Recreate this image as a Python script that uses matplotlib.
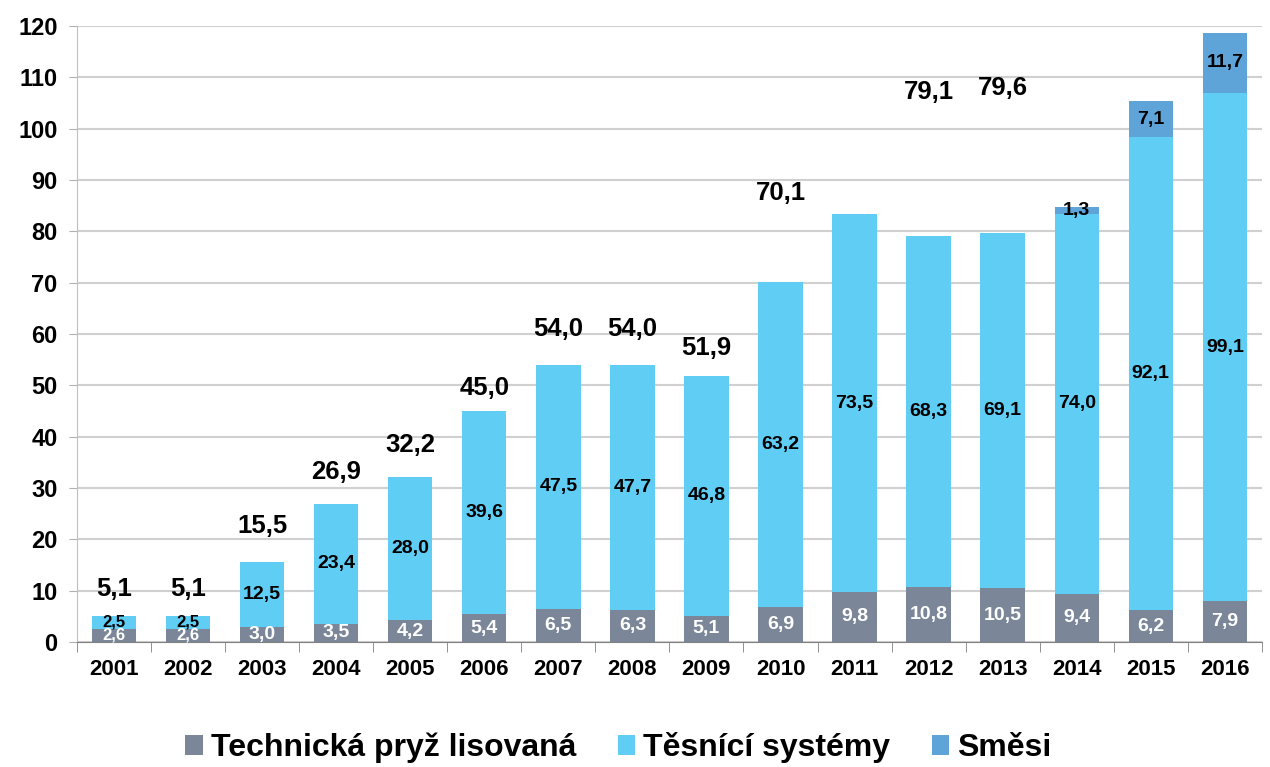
import numpy as np
import matplotlib
matplotlib.use("Agg")
import matplotlib.pyplot as plt

plt.rcParams['font.family'] = ['Liberation Sans', 'DejaVu Sans']
plt.rcParams['font.weight'] = 'bold'

years = ['2001', '2002', '2003', '2004', '2005', '2006', '2007', '2008',
         '2009', '2010', '2011', '2012', '2013', '2014', '2015', '2016']
pryz = [2.6, 2.6, 3.0, 3.5, 4.2, 5.4, 6.5, 6.3, 5.1, 6.9, 9.8, 10.8, 10.5, 9.4, 6.2, 7.9]
tesnici = [2.5, 2.5, 12.5, 23.4, 28.0, 39.6, 47.5, 47.7, 46.8, 63.2, 73.5, 68.3, 69.1, 74.0, 92.1, 99.1]
smesi = [0, 0, 0, 0, 0, 0, 0, 0, 0, 0, 0, 0, 0, 1.3, 7.1, 11.7]

# total labels as they sit in the original (some are displaced, some missing)
total_text = ['5,1', '5,1', '15,5', '26,9', '32,2', '45,0', '54,0', '54,0',
              '51,9', '70,1', '', '79,1', '79,6', '', '', '']
total_y = [10.3, 10.3, 22.6, 33.1, 38.3, 49.5, 61.0, 61.0,
           57.3, 87.5, 0, 107.1, 108.0, 0, 0, 0]

series_names = ['Technická pryž lisovaná', 'Těsnící systémy', 'Směsi']
colors = ['#7b8799', '#5fcdf4', '#5ea4d8']

def fmt(v):
    return f"{v:.1f}".replace('.', ',')

fig = plt.figure(figsize=(12.7, 7.67), dpi=100)
ax = fig.add_axes([0.0606, 0.163, 0.933, 0.803])

x = np.arange(len(years))
w = 0.6
stack_total = np.array(pryz) + np.array(tesnici) + np.array(smesi)
bottom = np.zeros(len(years))
for vals, name, col in zip([pryz, tesnici, smesi], series_names, colors):
    vals = np.array(vals)
    ax.bar(x, vals, w, bottom=bottom, color=col, label=name, zorder=2)
    for xi, v, b, tot in zip(x, vals, bottom, stack_total):
        if v <= 0:
            continue
        tc = 'white' if col == colors[0] else 'black'
        # the two tiny stacks in 2001/2002 get slightly smaller text
        fs = 12 if tot < 6 else 14
        ax.text(xi, b + v / 2, fmt(v), ha='center', va='center',
                fontsize=fs, color=tc, fontweight='bold', zorder=3)
    bottom += vals

for xi, t, ty in zip(x, total_text, total_y):
    if t:
        ax.text(xi, ty, t, ha='center', va='center', fontsize=18.5,
                fontweight='bold', color='black', zorder=3)

ax.set_xlim(-0.5, len(years) - 0.5)
ax.set_ylim(0, 120)
ax.set_yticks(np.arange(0, 121, 10))
ax.set_xticks(x)
ax.set_xticklabels(years)
ax.set_xticks(np.arange(-0.5, len(years), 1), minor=True)
ax.tick_params(axis='x', which='major', length=0, pad=12, labelsize=16)
ax.tick_params(axis='x', which='minor', length=7, color='#808080')
ax.tick_params(axis='y', length=6, color='#b0b0b0', labelsize=17, pad=8)
ax.yaxis.grid(True, color='#d0d0d0', linewidth=1.5, zorder=0)
ax.set_axisbelow(True)
for s in ['top', 'right']:
    ax.spines[s].set_visible(False)
ax.spines['left'].set_color('#c0c0c0')
ax.spines['bottom'].set_color('#808080')

fig.legend(loc='center', ncol=3, frameon=False, fontsize=23,
           handlelength=0.55, handleheight=0.55, columnspacing=1.3,
           handletextpad=0.25, bbox_to_anchor=(0.487, 0.025))

fig.savefig('out.png', dpi=100)
